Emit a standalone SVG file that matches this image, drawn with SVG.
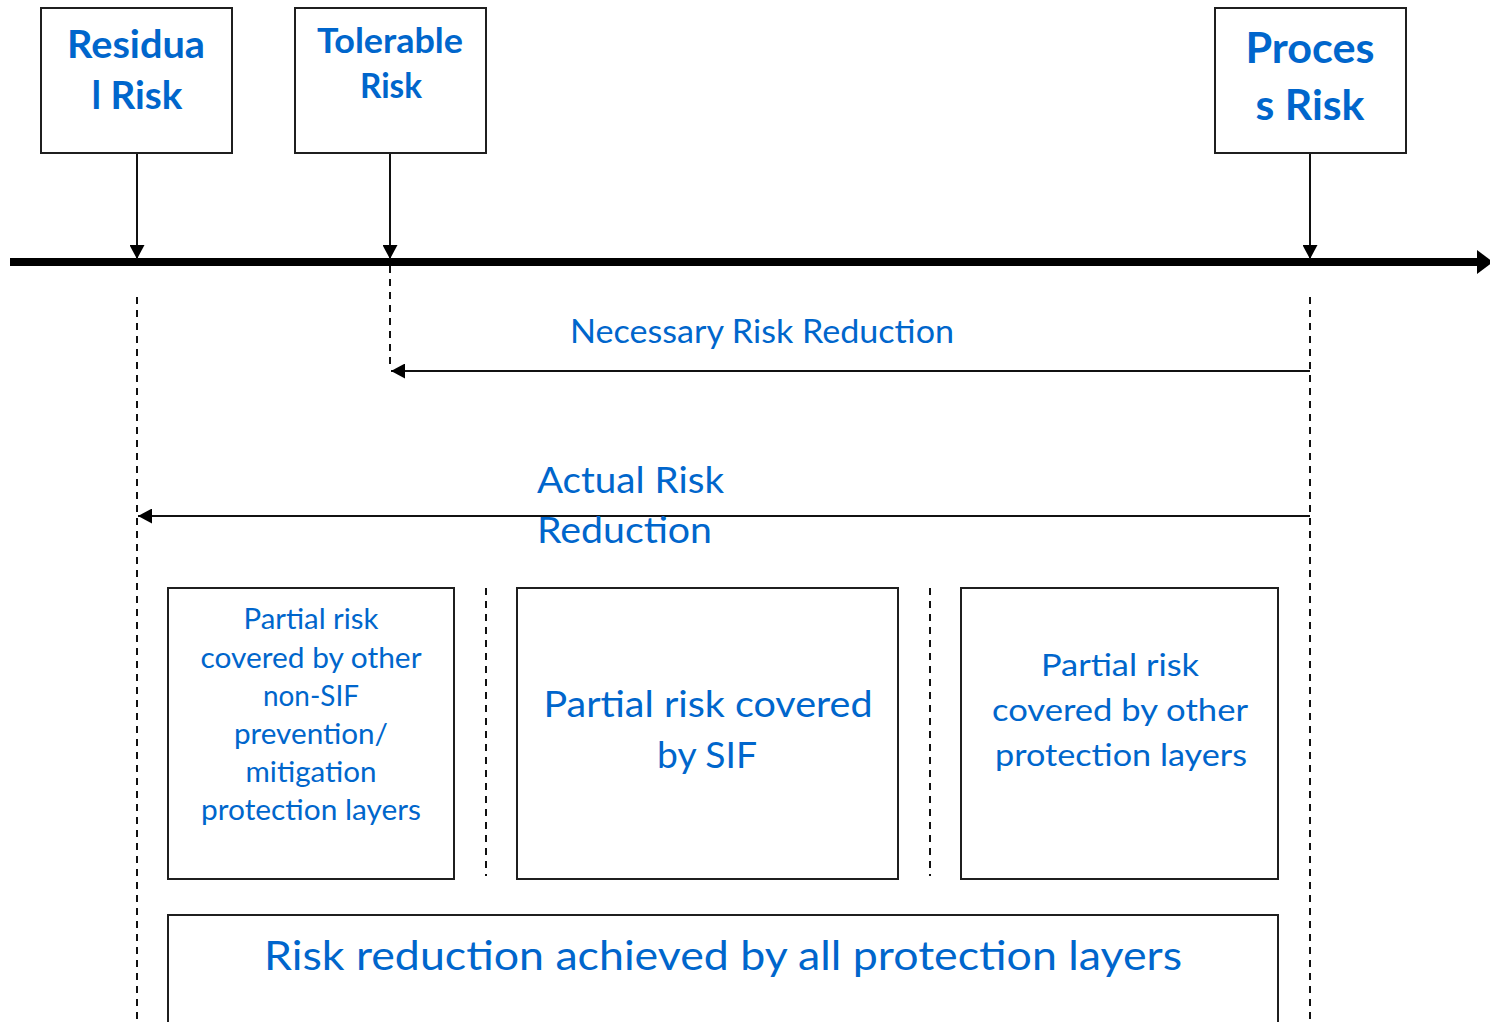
<svg xmlns="http://www.w3.org/2000/svg" width="1490" height="1022" viewBox="0 0 1490 1022">
  <defs>
    <style>
      .box { fill: #ffffff; stroke: #1f1f1f; stroke-width: 2; }
      .lbl { fill: #0066cc; font-family: Lato, "Open Sans", "Liberation Sans", sans-serif; text-anchor: middle; }
      .bold { font-weight: bold; }
      .line { stroke: #111111; stroke-width: 2; fill: none; }
      .dash { stroke: #111111; stroke-width: 2; stroke-dasharray: 7 6; fill: none; }
      .axis { stroke: #000000; stroke-width: 8; fill: none; }
    </style>
    <marker id="head" viewBox="0 0 14 15" refX="14" refY="7.5" markerWidth="14" markerHeight="15" markerUnits="userSpaceOnUse" orient="auto">
      <path d="M0,0 L14,7.5 L0,15 z" fill="#000000"/>
    </marker>
    <marker id="axisHead" viewBox="0 0 16 24" refX="0" refY="12" markerWidth="16" markerHeight="24" markerUnits="userSpaceOnUse" orient="auto">
      <path d="M0,0 L16,12 L0,24 z" fill="#000000"/>
    </marker>
  </defs>

  <rect width="1490" height="1022" fill="#ffffff"/>

  <!-- connectors: pointers, axis, guide lines and reduction arrows -->
  <g id="connectors">
    <line class="axis" x1="10" y1="262" x2="1477" y2="262" marker-end="url(#axisHead)"/>
    <line class="line" x1="137" y1="153" x2="137" y2="259" marker-end="url(#head)"/>
    <line class="line" x1="390" y1="153" x2="390" y2="259" marker-end="url(#head)"/>
    <line class="line" x1="1310" y1="153" x2="1310" y2="259" marker-end="url(#head)"/>

    <line class="dash" x1="137" y1="297" x2="137" y2="1022"/>
    <line class="dash" x1="390" y1="266" x2="390" y2="370"/>
    <line class="dash" x1="1310" y1="297" x2="1310" y2="1022"/>
    <line class="dash" x1="486" y1="588" x2="486" y2="876"/>
    <line class="dash" x1="930" y1="588" x2="930" y2="876"/>

    <line class="line" x1="1310" y1="371" x2="391" y2="371" marker-end="url(#head)"/>
    <line class="line" x1="1310" y1="516" x2="138" y2="516" marker-end="url(#head)"/>
  </g>

  <g id="residual-risk">
    <rect class="box" x="41" y="8" width="191" height="145"/>
    <text class="lbl bold" x="136" y="58" font-size="39" textLength="138" lengthAdjust="spacingAndGlyphs">Residua</text>
    <text class="lbl bold" x="137" y="109" font-size="39" textLength="91" lengthAdjust="spacingAndGlyphs">l Risk</text>
  </g>

  <g id="tolerable-risk">
    <rect class="box" x="295" y="8" width="191" height="145"/>
    <text class="lbl bold" x="390" y="53" font-size="34" textLength="146" lengthAdjust="spacingAndGlyphs">Tolerable</text>
    <text class="lbl bold" x="391" y="98" font-size="34" textLength="62" lengthAdjust="spacingAndGlyphs">Risk</text>
  </g>

  <g id="process-risk">
    <rect class="box" x="1215" y="8" width="191" height="145"/>
    <text class="lbl bold" x="1310" y="63" font-size="42" textLength="129" lengthAdjust="spacingAndGlyphs">Proces</text>
    <text class="lbl bold" x="1310" y="120" font-size="42" textLength="109" lengthAdjust="spacingAndGlyphs">s Risk</text>
  </g>

  <g id="necessary-risk-reduction">
    <text class="lbl" x="762" y="343" font-size="33" textLength="384" lengthAdjust="spacingAndGlyphs">Necessary Risk Reduction</text>
  </g>

  <g id="actual-risk-reduction">
    <text class="lbl" x="537" y="493" font-size="36" textLength="187" lengthAdjust="spacingAndGlyphs" style="text-anchor:start">Actual Risk</text>
    <text class="lbl" x="537" y="543" font-size="36" textLength="175" lengthAdjust="spacingAndGlyphs" style="text-anchor:start">Reduction</text>
  </g>

  <g id="non-sif-layers">
    <rect class="box" x="168" y="588" width="286" height="291"/>
    <text class="lbl" x="311" y="629" font-size="28" textLength="135" lengthAdjust="spacingAndGlyphs">Partial risk</text>
    <text class="lbl" x="311" y="668" font-size="28" textLength="221" lengthAdjust="spacingAndGlyphs">covered by other</text>
    <text class="lbl" x="311" y="706" font-size="28" textLength="96" lengthAdjust="spacingAndGlyphs">non-SIF</text>
    <text class="lbl" x="311" y="744" font-size="28" textLength="154" lengthAdjust="spacingAndGlyphs">prevention/</text>
    <text class="lbl" x="311" y="782" font-size="28" textLength="131" lengthAdjust="spacingAndGlyphs">mitigation</text>
    <text class="lbl" x="311" y="820" font-size="28" textLength="220" lengthAdjust="spacingAndGlyphs">protection layers</text>
  </g>

  <g id="sif">
    <rect class="box" x="517" y="588" width="381" height="291"/>
    <text class="lbl" x="708" y="717" font-size="36" textLength="329" lengthAdjust="spacingAndGlyphs">Partial risk covered</text>
    <text class="lbl" x="707" y="768" font-size="36" textLength="100" lengthAdjust="spacingAndGlyphs">by SIF</text>
  </g>

  <g id="other-protection-layers">
    <rect class="box" x="961" y="588" width="317" height="291"/>
    <text class="lbl" x="1120" y="676" font-size="31" textLength="158" lengthAdjust="spacingAndGlyphs">Partial risk</text>
    <text class="lbl" x="1120" y="721" font-size="31" textLength="256" lengthAdjust="spacingAndGlyphs">covered by other</text>
    <text class="lbl" x="1121" y="766" font-size="31" textLength="252" lengthAdjust="spacingAndGlyphs">protection layers</text>
  </g>

  <g id="all-protection-layers">
    <rect class="box" x="168" y="915" width="1110" height="140"/>
    <text class="lbl" x="723" y="970" font-size="40" textLength="918" lengthAdjust="spacingAndGlyphs">Risk reduction achieved by all protection layers</text>
  </g>
</svg>
